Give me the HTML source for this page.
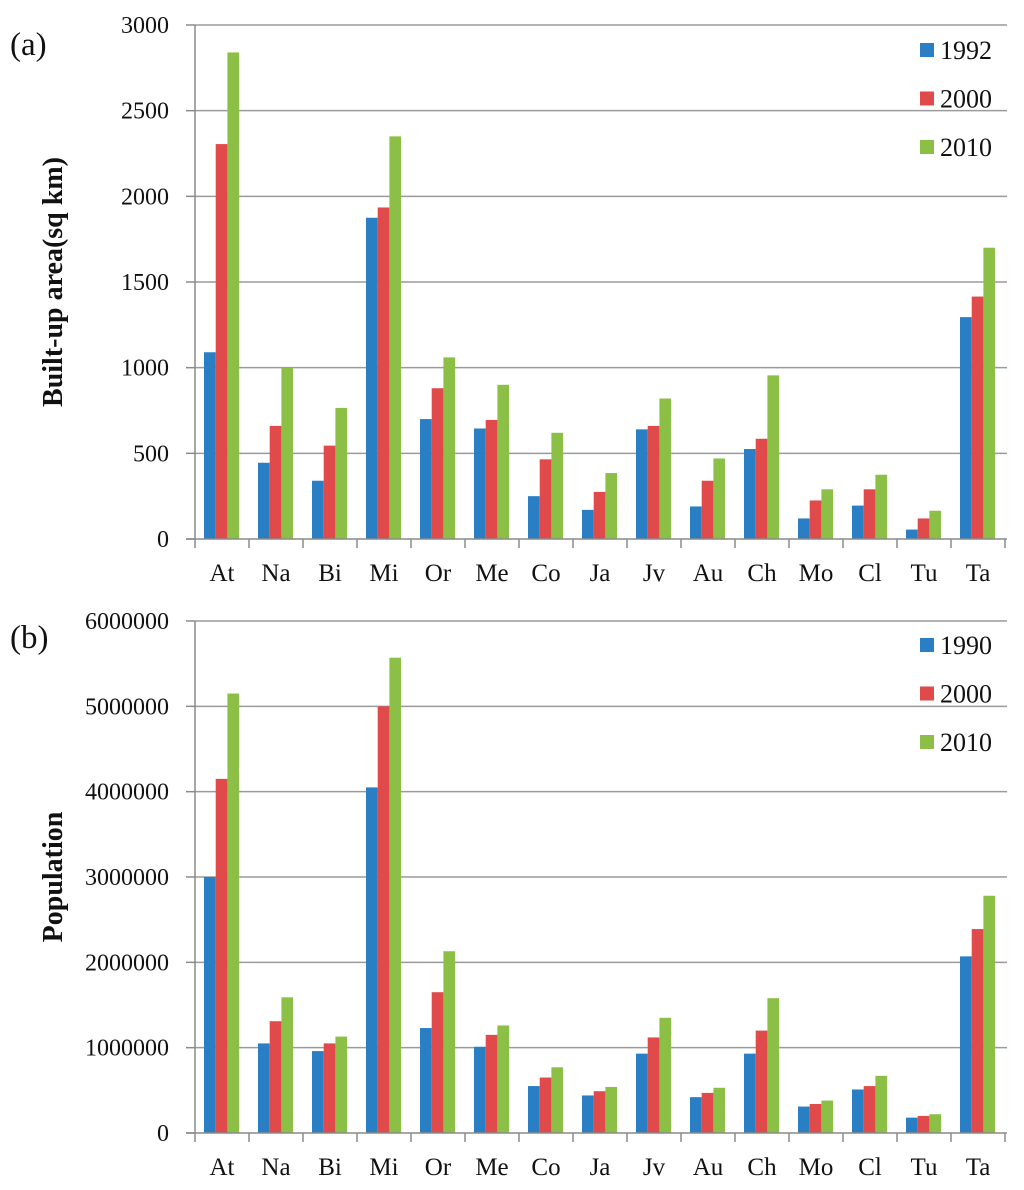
<!DOCTYPE html>
<html><head><meta charset="utf-8"><style>
body{margin:0;background:#fff}
svg{display:block;font-family:"Liberation Serif",serif}
</style></head><body>
<svg id="chart" width="1024" height="1190" viewBox="0 0 1024 1190" xmlns="http://www.w3.org/2000/svg"></svg>
<script>
const categories = ["At","Na","Bi","Mi","Or","Me","Co","Ja","Jv","Au","Ch","Mo","Cl","Tu","Ta"];
const areaYears = ["1992","2000","2010"];
const area1992 = [1090,445,340,1875,700,645,250,170,640,190,525,120,195,55,1295];
const area2000 = [2305,660,545,1935,880,695,465,275,660,340,585,225,290,120,1415];
const area2010 = [2840,1000,765,2350,1060,900,620,385,820,470,955,290,375,165,1700];
const areaTicks = [0,500,1000,1500,2000,2500,3000];
const popYears = ["1990","2000","2010"];
const pop1990 = [3000000,1050000,960000,4050000,1230000,1010000,550000,440000,930000,420000,930000,310000,510000,180000,2070000];
const pop2000 = [4150000,1310000,1050000,5000000,1650000,1150000,650000,490000,1120000,470000,1200000,340000,550000,200000,2390000];
const pop2010 = [5150000,1590000,1130000,5570000,2130000,1260000,770000,540000,1350000,530000,1580000,380000,670000,220000,2780000];
const popTicks = [0,1000000,2000000,3000000,4000000,5000000,6000000];
const colors = ["#2a7fc4","#e04a4a","#8bbf46"];

const svg = document.getElementById('chart');
const NS = "http://www.w3.org/2000/svg";
function el(tag, attrs, parent){const e=document.createElementNS(NS,tag);for(const k in attrs)e.setAttribute(k,attrs[k]);(parent||svg).appendChild(e);return e;}

function panel(cfg){
  const g = el('g',{});
  
  
  const x0=195, x1=1005, y0=cfg.yBottom, y1=cfg.yTop, maxV=cfg.ticks[cfg.ticks.length-1];
  const bw=(x1-x0)/categories.length;
  const yS=v=>y0-(v/maxV)*(y0-y1);
  const xS=i=>x0+i*bw;
  cfg.ticks.forEach(t=>{
    const y=yS(t);
    if(t>0){const l=el('line',{x1:x0,x2:1007,y1:y,y2:y,stroke:'#9a9a9a','stroke-width':1.5},g);
      
      }
    const tk=el('line',{x1:186,x2:x0,y1:y,y2:y,stroke:'#8a8a8a','stroke-width':1.5},g);
    
    
    const tx=el('text',{x:169,y:y+8,'text-anchor':'end','font-size':24,fill:'#111'},g);
    tx.textContent=t;
    
    
  });
  const series=cfg.series;
  categories.forEach((c,i)=>{
    series.forEach((s,j)=>{
      const bx=xS(i)+9+j*11.7, y=yS(s[i]);
      const r=el('rect',{x:bx,y:y,width:11.7,height:y0-y,fill:colors[j]},g);
      
      
    });
    const tk=el('line',{x1:xS(i),x2:xS(i),y1:y0,y2:y0+9,stroke:'#8a8a8a','stroke-width':1.5},g);
    
    
    const tx=el('text',{x:xS(i)+bw/2,y:y0+42,'text-anchor':'middle','font-size':25,fill:'#111'},g);
    tx.textContent=c;
    
    
  });
  const e1=el('line',{x1:x1,x2:x1,y1:y0,y2:y0+9,stroke:'#8a8a8a','stroke-width':1.5},g);
  
  
  const ax=el('line',{x1:x0,x2:x0,y1:y1,y2:y0,stroke:'#8a8a8a','stroke-width':1.5},g);
  
  
  const bx=el('line',{x1:186,x2:1007,y1:y0,y2:y0,stroke:'#8a8a8a','stroke-width':1.5},g);
  
  
  cfg.years.forEach((yr,j)=>{
    const cy=cfg.legendY+j*48.5;
    const lg=el('g',{},g);
    
    
    el('rect',{x:920,y:cy-7,width:14,height:14,fill:colors[j]},lg);
    const t=el('text',{x:940,y:cy+9,'font-size':26,fill:'#111'},lg);
    t.textContent=yr;
  });
  const tt=el('text',{x:0,y:0,'font-size':28,'font-weight':'bold','text-anchor':'middle',fill:'#111',transform:`translate(62,${(y0+y1)/2}) rotate(-90)`},g);
  tt.textContent=cfg.title;
  
  
  const pl=el('text',{x:10,y:cfg.labelY,'font-size':33,fill:'#111'},g);
  pl.textContent=cfg.label;
  
  
}
panel({name:'built-up-area-chart',yTop:25,yBottom:539,ticks:areaTicks,series:[area1992,area2000,area2010],years:areaYears,legendY:50,title:'Built-up area(sq km)',label:'(a)',labelY:55});
panel({name:'population-chart',yTop:621,yBottom:1133,ticks:popTicks,series:[pop1990,pop2000,pop2010],years:popYears,legendY:645,title:'Population',label:'(b)',labelY:648});
</script>
</body></html>
